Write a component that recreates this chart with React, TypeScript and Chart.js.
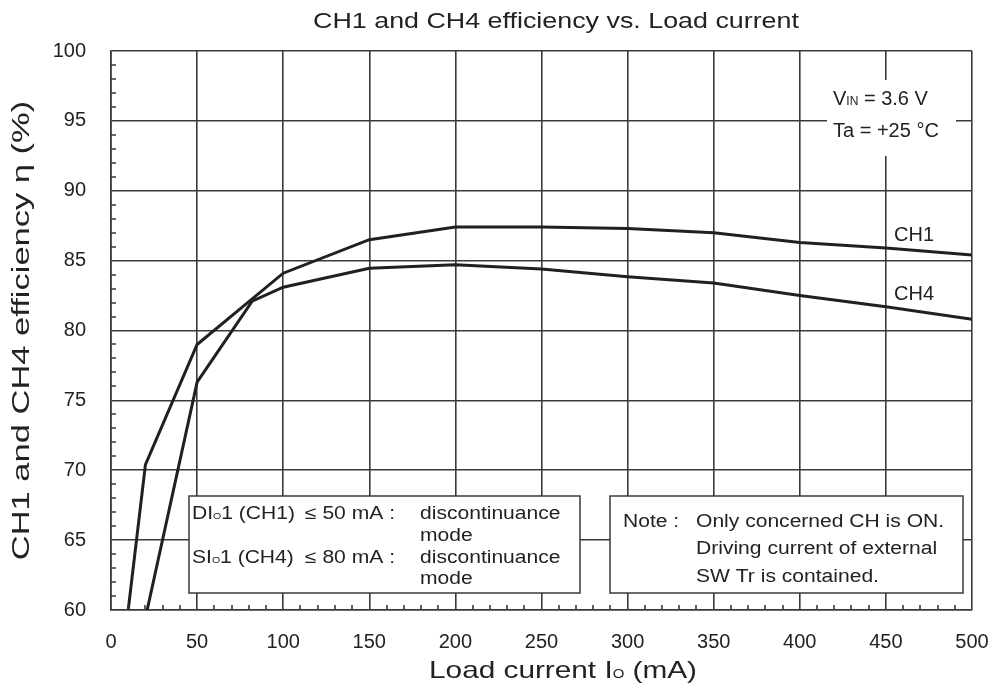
import React, { useEffect, useRef } from "react";
import { Chart, registerables } from "chart.js";

Chart.register(...registerables);

const FONT = "'Liberation Sans', Arial, Helvetica, sans-serif";

const TITLE = "CH1 and CH4 efficiency vs. Load current";
const X_MIN = 0;
const X_MAX = 500;
const X_STEP = 50;
const Y_MIN = 60;
const Y_MAX = 100;
const Y_STEP = 5;

// Load current (mA) and efficiency (%)
const ch1Current = [10, 20, 50, 100, 150, 200, 250, 300, 350, 400, 450, 500];
const ch1Eff = [60, 70.4, 79.0, 84.1, 86.5, 87.4, 87.4, 87.3, 87.0, 86.3, 85.9, 85.4];
const ch4Current = [21, 50, 82, 100, 150, 200, 250, 300, 350, 400, 450, 500];
const ch4Eff = [60, 76.3, 82.1, 83.1, 84.45, 84.7, 84.4, 83.85, 83.4, 82.5, 81.7, 80.8];

type Seg = { t: string; s: number };

function drawRich(
  ctx: CanvasRenderingContext2D,
  segs: Seg[],
  x: number,
  y: number,
  sx: number,
  align: "left" | "center" | "right"
) {
  let w = 0;
  for (const sg of segs) {
    ctx.font = `${sg.s}px ${FONT}`;
    w += ctx.measureText(sg.t).width;
  }
  const start = align === "center" ? x - (w * sx) / 2 : align === "right" ? x - w * sx : x;
  ctx.save();
  ctx.translate(start, y);
  ctx.scale(sx, 1);
  ctx.textAlign = "left";
  ctx.textBaseline = "alphabetic";
  let cx = 0;
  for (const sg of segs) {
    ctx.font = `${sg.s}px ${FONT}`;
    ctx.fillText(sg.t, cx, 0);
    cx += ctx.measureText(sg.t).width;
  }
  ctx.restore();
}

const decorPlugin = {
  id: "decor",
  afterDatasetsDraw(chart: any) {
    const ctx: CanvasRenderingContext2D = chart.ctx;
    const xs = chart.scales.x;
    const ys = chart.scales.y;
    const area = chart.chartArea;
    ctx.save();
    // minor ticks
    ctx.strokeStyle = "#3a3a3a";
    ctx.lineWidth = 1.6;
    ctx.beginPath();
    for (let v = Y_MIN + 1; v < Y_MAX; v++) {
      if (v % Y_STEP === 0) continue;
      const py = Math.round(ys.getPixelForValue(v));
      ctx.moveTo(area.left, py);
      ctx.lineTo(area.left + 5, py);
    }
    for (let v = X_MIN + 10; v < X_MAX; v += 10) {
      if (v % X_STEP === 0) continue;
      const px = Math.round(xs.getPixelForValue(v));
      ctx.moveTo(px, area.bottom);
      ctx.lineTo(px, area.bottom - 5);
    }
    ctx.stroke();

    // top-right white label area
    ctx.fillStyle = "#ffffff";
    ctx.fillRect(827, 80, 129, 76);

    // boxes
    ctx.fillStyle = "#ffffff";
    ctx.strokeStyle = "#3a3a3a";
    ctx.lineWidth = 1.5;
    ctx.fillRect(189, 496, 391, 97);
    ctx.strokeRect(189, 496, 391, 97);
    ctx.fillRect(610, 496, 353, 97);
    ctx.strokeRect(610, 496, 353, 97);

    ctx.fillStyle = "#222222";
    // condition text
    drawRich(ctx, [{ t: "V", s: 20 }, { t: "IN", s: 12 }, { t: " = 3.6 V", s: 20 }], 833, 105, 1, "left");
    drawRich(ctx, [{ t: "Ta = +25 °C", s: 20 }], 833, 137, 1, "left");

    // series labels
    drawRich(ctx, [{ t: "CH1", s: 20 }], 894, 241, 1, "left");
    drawRich(ctx, [{ t: "CH4", s: 20 }], 894, 300, 1, "left");

    // left box
    const bs = 18;
    const bx = 1.17;
    drawRich(ctx, [{ t: "DI", s: bs }, { t: "O", s: 9 }, { t: "1 (CH1)", s: bs }], 192, 519, bx, "left");
    drawRich(ctx, [{ t: "≤ 50 mA :", s: bs }], 305, 519, bx, "left");
    drawRich(ctx, [{ t: "discontinuance", s: bs }], 420, 519, bx, "left");
    drawRich(ctx, [{ t: "mode", s: bs }], 420, 541, bx, "left");
    drawRich(ctx, [{ t: "SI", s: bs }, { t: "O", s: 9 }, { t: "1 (CH4)", s: bs }], 192, 563, bx, "left");
    drawRich(ctx, [{ t: "≤ 80 mA :", s: bs }], 305, 563, bx, "left");
    drawRich(ctx, [{ t: "discontinuance", s: bs }], 420, 563, bx, "left");
    drawRich(ctx, [{ t: "mode", s: bs }], 420, 584, bx, "left");

    // right box
    drawRich(ctx, [{ t: "Note :", s: bs }], 623, 527, bx, "left");
    drawRich(ctx, [{ t: "Only concerned CH is ON.", s: bs }], 696, 527, bx, "left");
    drawRich(ctx, [{ t: "Driving current of external", s: bs }], 696, 554, bx, "left");
    drawRich(ctx, [{ t: "SW Tr is contained.", s: bs }], 696, 582, bx, "left");

    // title
    drawRich(ctx, [{ t: TITLE, s: 22 }], 556, 28, 1.22, "center");

    // x axis title
    drawRich(
      ctx,
      [{ t: "Load current I", s: 24 }, { t: "O", s: 12 }, { t: " (mA)", s: 24 }],
      563,
      678,
      1.24,
      "center"
    );

    // y axis title
    ctx.save();
    ctx.translate(29, (area.top + area.bottom) / 2);
    ctx.rotate(-Math.PI / 2);
    drawRich(ctx, [{ t: "CH1 and CH4 efficiency η (%)", s: 23 }], 0, 0, 1.5, "center");
    ctx.restore();

    ctx.restore();
  },
};

export default function App() {
  const ref = useRef<HTMLCanvasElement | null>(null);
  useEffect(() => {
    if (!ref.current) return;
    const gridColor = "#3a3a3a";
    const chart = new Chart(ref.current, {
      type: "line",
      data: {
        datasets: [
          {
            label: "CH1",
            data: ch1Current.map((x, i) => ({ x, y: ch1Eff[i] })),
            borderColor: "#231f20",
            borderWidth: 3,
            pointRadius: 0,
            tension: 0,
            fill: false,
          },
          {
            label: "CH4",
            data: ch4Current.map((x, i) => ({ x, y: ch4Eff[i] })),
            borderColor: "#231f20",
            borderWidth: 3,
            pointRadius: 0,
            tension: 0,
            fill: false,
          },
        ],
      },
      options: {
        animation: false,
        responsive: false,
        devicePixelRatio: 1,
        layout: { padding: { left: 0, right: 21, top: 51, bottom: 0 } },
        plugins: {
          legend: { display: false },
          title: { display: false },
          tooltip: { enabled: false },
        },
        scales: {
          x: {
            type: "linear",
            min: X_MIN,
            max: X_MAX,
            afterFit: (s: any) => {
              s.height = 78;
              s.paddingRight = 0;
              s.paddingLeft = 0;
            },
            ticks: {
              stepSize: X_STEP,
              color: "#222",
              font: { family: FONT, size: 20 },
              padding: 20,
              maxRotation: 0,
            },
            grid: { color: gridColor, lineWidth: 1.6, drawTicks: false },
            border: { color: gridColor, width: 1.6 },
          },
          y: {
            type: "linear",
            min: Y_MIN,
            max: Y_MAX,
            afterFit: (s: any) => {
              s.width = 111;
              s.paddingTop = 0;
              s.paddingBottom = 0;
            },
            ticks: {
              stepSize: Y_STEP,
              color: "#222",
              font: { family: FONT, size: 20 },
              padding: 25,
            },
            grid: { color: gridColor, lineWidth: 1.6, drawTicks: false },
            border: { color: gridColor, width: 1.6 },
          },
        },
      },
      plugins: [decorPlugin],
    });
    return () => chart.destroy();
  }, []);
  return (
    <div style={{ position: "absolute", left: 0, top: 0, width: 993, height: 688, background: "#fff" }}>
      <canvas ref={ref} width={993} height={688} style={{ display: "block" }} />
    </div>
  );
}
